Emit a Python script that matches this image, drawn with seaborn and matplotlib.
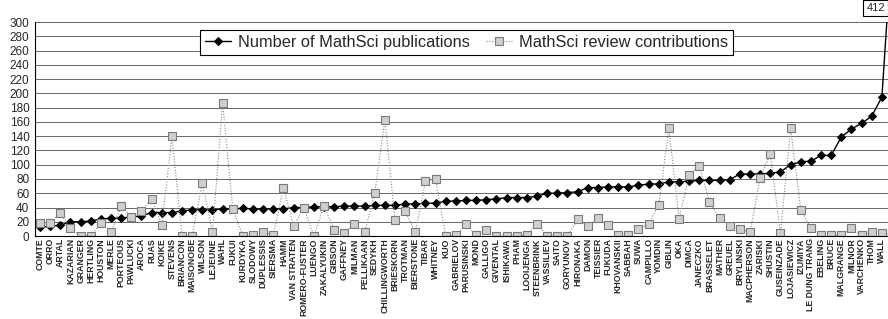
import numpy as np
import pandas as pd
import seaborn as sns
import matplotlib.pyplot as plt

# Authors, sorted by number of publications (last one is cut off in the original)
authors = ["COMTE", "ORRO", "ARTAL", "KAZARIAN", "GRANGER", "HERTLING", "HOUSTON",
           "MERLE", "PORTEOUS", "PAWLUCKI", "AROCA", "RUAS", "KOIKE", "STEVENS",
           "BRIANCON", "MAISONOBE", "WILSON", "LEJEUNE", "WAHL", "FUKUI", "KURDYKA",
           "SLODOWY", "DUPLESSIS", "SIERSMA", "HAMM", "VAN STRATEN", "ROMERO-FUSTER",
           "LUENGO", "ZAKALYUKIN", "GIBSON", "GAFFNEY", "MILMAN", "PELLIKAAN", "SEDYKH",
           "CHILLINGWORTH", "BRIESKORN", "TROTMAN", "BIERSTONE", "TIBAR", "WHITNEY",
           "KUO", "GABRIELOV", "PARUSINSKI", "MOND", "GALLIGO", "GIVENTAL", "ISHIKAWA",
           "PHAM", "LOOIJENGA", "STEENBRINK", "VASSILIEV", "SAITO", "GORYUNOV",
           "HIRONAKA", "DAMON", "TEISSIER", "FUKUDA", "KHOVANSKII", "SABBAH", "SUWA",
           "CAMPILLO", "YOMDIN", "GIBLIN", "OKA", "DIMCA", "JANECZKO", "BRASSELET",
           "MATHER", "GREUEL", "BRYLINSKI", "MACPHERSON", "ZARISKI", "SHUSTIN",
           "GUSEINZADE", "LOJASIEWICZ", "IZUMIYA", "LE DUNG TRANG", "EBELING", "BRUCE",
           "MALGRANGE", "MILNOR", "VARCHENKO", "THOM", "WALL", ""]

publications = [12, 14, 15, 20, 20, 21, 24, 25, 25, 27, 28, 33, 33, 33, 35, 37, 37, 37,
                38, 38, 39, 38, 38, 38, 38, 40, 40, 41, 41, 41, 42, 42, 42, 43, 43, 43,
                45, 45, 46, 46, 49, 49, 50, 50, 51, 52, 54, 54, 54, 56, 60, 60, 61, 62,
                68, 68, 69, 69, 69, 71, 73, 73, 76, 76, 77, 78, 78, 78, 79, 87, 87, 87,
                88, 90, 100, 104, 105, 113, 113, 139, 150, 158, 168, 195, 412]

reviews = [19, 19, 33, 11, 0, 0, 19, 5, 42, 27, 35, 52, 15, 140, 0, 0, 75, 5, 186, 38,
           0, 2, 5, 2, 68, 14, 40, 0, 42, 9, 4, 17, 5, 61, 163, 22, 35, 5, 77, 80,
           0, 1, 17, 2, 9, 0, 0, 0, 2, 17, 0, 0, 0, 24, 14, 25, 15, 1, 2, 10,
           17, 44, 151, 24, 86, 98, 48, 25, 14, 10, 5, 82, 115, 4, 151, 37, 11, 1, 1, 1,
           11, 1, 5, 4, 2]

df = pd.DataFrame({"pos": np.arange(len(authors)), "author": authors,
                   "pub": publications, "rev": reviews})

sns.set_style("white")
plt.rcParams["font.family"] = ["Liberation Sans", "DejaVu Sans"]

fig = plt.figure(figsize=(8.88, 3.19), dpi=100)
ax = fig.add_axes([0.0394, 0.26, 0.9606, 0.671])

sns.lineplot(data=df, x="pos", y="pub", ax=ax, color="black", linewidth=1.0,
             marker="D", markersize=4, markerfacecolor="black", markeredgecolor="black",
             label="Number of MathSci publications")
sns.lineplot(data=df, x="pos", y="rev", ax=ax, color="#8a8a8a", linewidth=0.8,
             marker="s", markersize=5.5, markerfacecolor="#cfcfcf",
             markeredgecolor="#7a7a7a", markeredgewidth=0.8,
             label="MathSci review contributions")
ax.lines[1].set_linestyle((0, (1, 1.5)))

ax.set_xlim(-0.5, 83.6)
ax.set_ylim(0, 300)
ax.set_yticks(range(0, 301, 20))
ax.set_yticklabels([str(v) for v in range(0, 301, 20)], fontsize=8.5)
ax.set_xticks(df["pos"][:-1])
ax.set_xticklabels(authors[:-1], rotation=90, fontsize=6.3, fontweight="bold")
ax.set_xticks(np.arange(-0.5, 84, 1), minor=True)
ax.tick_params(axis="x", which="major", length=0, pad=1.5)
ax.tick_params(axis="x", which="minor", length=3, width=0.6, color="black", direction="out")
ax.tick_params(axis="y", length=3, width=0.6, color="black", direction="out", pad=1)
ax.set_xlabel("")
ax.set_ylabel("")

ax.yaxis.grid(True, color="#505050", linewidth=0.6)
ax.set_axisbelow(True)
for side in ["top", "right"]:
    ax.spines[side].set_visible(False)
for side in ["left", "bottom"]:
    ax.spines[side].set_color("black")
    ax.spines[side].set_linewidth(0.8)

leg = ax.legend(loc="center", bbox_to_anchor=(0.506, 0.904), ncol=2, fontsize=11.8,
                frameon=True, fancybox=False, edgecolor="black", framealpha=1,
                handlelength=1.6, handletextpad=0.4, columnspacing=1.0,
                borderpad=0.3)
leg.get_frame().set_linewidth(0.8)

fig.text(0.986, 0.975, "412", fontsize=8, ha="center", va="center",
         bbox=dict(boxstyle="square,pad=0.25", facecolor="white", edgecolor="black",
                   linewidth=0.8))

fig.savefig("out.png", dpi=100)
